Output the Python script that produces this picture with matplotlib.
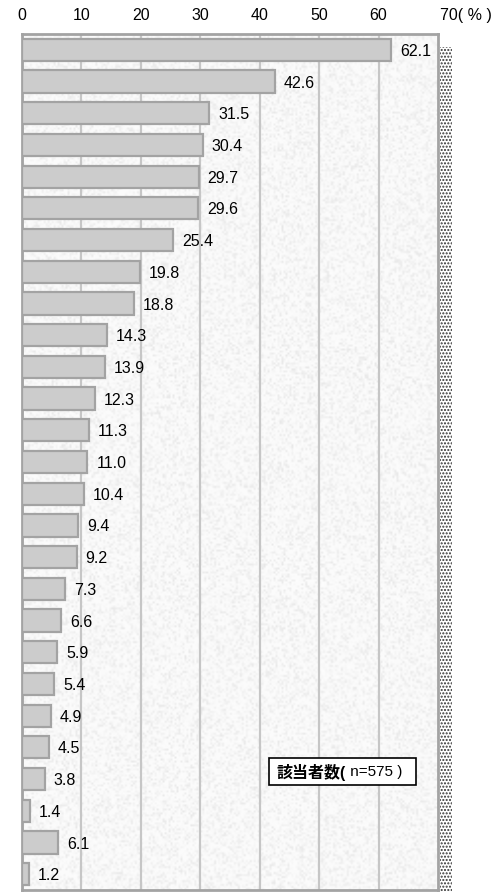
import numpy as np
import matplotlib
matplotlib.use("Agg")
import matplotlib.pyplot as plt
from matplotlib.patches import Rectangle

plt.rcParams['font.family'] = ['Liberation Sans', 'Noto Sans CJK JP', 'DejaVu Sans']

# 回答割合（%）、上から順
values = [62.1, 42.6, 31.5, 30.4, 29.7, 29.6, 25.4, 19.8, 18.8, 14.3,
          13.9, 12.3, 11.3, 11.0, 10.4, 9.4, 9.2, 7.3, 6.6, 5.9,
          5.4, 4.9, 4.5, 3.8, 1.4, 6.1, 1.2]
xticks = [0, 10, 20, 30, 40, 50, 60]
xticklabels = ['0', '10', '20', '30', '40', '50', '60']
x_end_label = '70( % )'
n_label_bold = '該当者数('
n_label = ' n=575 )'

fig = plt.figure(figsize=(5.0, 8.92), dpi=100)
ax = fig.add_axes([22 / 500, 1 - 890 / 892, 416 / 500, 856 / 892])

# 右側の網点の影
fig.patches.append(Rectangle((440 / 500, 0), 12 / 500, 1 - 47 / 892,
                             transform=fig.transFigure, facecolor='white',
                             edgecolor='#333333', linewidth=0, hatch='.....',
                             zorder=0))

# 背景の淡い石目模様
rng = np.random.default_rng(7)
grain = 0.985 - 0.075 * rng.random((430, 210)) ** 3
ax.imshow(grain, cmap='gray', vmin=0, vmax=1, aspect='auto',
          interpolation='bilinear', extent=(0, 70, len(values) - 0.5, -0.5),
          zorder=0)

rows = list(range(len(values)))
ax.barh(rows, values, height=0.7, color='#cccccc', edgecolor='#a3a3a3',
        linewidth=1.6, zorder=3)

for y, v in zip(rows, values):
    ax.text(v + 1.5, y + 0.05, f'{v:.1f}', va='center', ha='left',
            fontsize=11.5, color='black', zorder=4)

ax.set_xlim(0, 70)
ax.set_ylim(len(values) - 0.5, -0.5)
ax.set_yticks([])
ax.set_xticks(xticks)
ax.set_xticklabels(xticklabels, fontsize=11.5)
ax.xaxis.tick_top()
ax.tick_params(axis='x', length=0, pad=8)
ax.text(70.3, 1.0 + 11 / 856, x_end_label, transform=ax.get_xaxis_transform(),
        fontsize=11.5, ha='left', va='bottom')
ax.grid(axis='x', color='#c6c6c6', linewidth=1.6, zorder=1)
ax.set_axisbelow(True)
for s in ax.spines.values():
    s.set_color('#a3a3a3')
    s.set_linewidth(2)

# 該当者数の枠
ax.add_patch(Rectangle((41.6, 22.34), 24.7, 0.85, facecolor='white',
                       edgecolor='black', linewidth=1.2, zorder=5))
t1 = ax.text(42.9, 22.78, n_label_bold, fontsize=11.5, fontweight='bold',
             va='center', ha='left', zorder=6)
ax.annotate(n_label, xy=(1, 0.5), xycoords=t1, va='center', ha='left',
            fontsize=11, zorder=6)

fig.savefig('out.png', dpi=100)
